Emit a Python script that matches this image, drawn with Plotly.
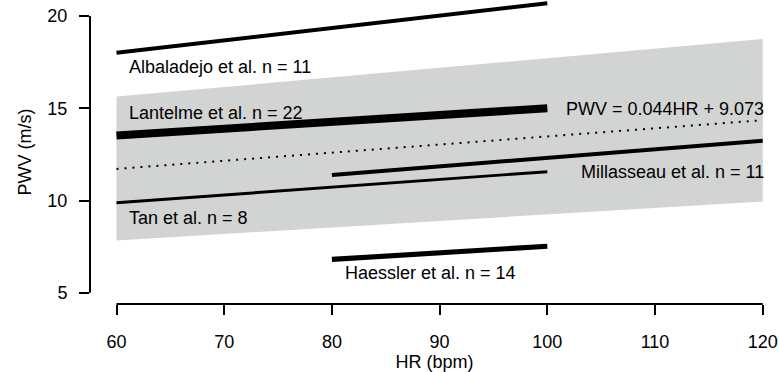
import plotly.graph_objects as go

# ---- data ----
hr_start = [60, 60, 60, 80, 80]
hr_end = [100, 100, 100, 120, 100]
pwv_start = [18.01, 13.52, 9.88, 11.38, 6.81]
pwv_end = [20.69, 15.00, 11.56, 13.24, 7.52]
study = ["Albaladejo et al.", "Lantelme et al.", "Tan et al.", "Millasseau et al.", "Haessler et al."]
n_subjects = [11, 22, 8, 11, 14]

band_hr = [60, 120, 120, 60]
band_pwv = [15.63, 18.75, 9.95, 7.83]

reg_slope = 0.044
reg_intercept = 9.073
reg_hr = [60, 120]

x_ticks = [60, 70, 80, 90, 100, 110, 120]
y_ticks = [5, 10, 15, 20]

# label positions (x, y, anchor) for each study
label_x = [61, 61, 61, 120.3, 81]
label_y = [17.25, 14.74, 9.07, 11.56, 6.05]
label_anchor = ["left", "left", "left", "right", "left"]

FONT = "Liberation Sans, Arial, Helvetica, sans-serif"
FS = 18

fig = go.Figure()

# grey band
fig.add_trace(go.Scatter(
    x=band_hr + [band_hr[0]], y=band_pwv + [band_pwv[0]],
    mode="lines", fill="toself", fillcolor="#d2d3d3",
    line=dict(width=0, color="#d2d3d3"), hoverinfo="skip", showlegend=False))

# regression (dotted)
reg_pwv = [reg_slope * h + reg_intercept for h in reg_hr]
fig.add_trace(go.Scatter(
    x=reg_hr, y=reg_pwv, mode="lines",
    line=dict(color="black", width=2, dash="2px,6px"), showlegend=False))

# study lines, width proportional to n
for i in range(len(study)):
    fig.add_trace(go.Scatter(
        x=[hr_start[i], hr_end[i]], y=[pwv_start[i], pwv_end[i]],
        mode="lines", name=study[i],
        line=dict(color="black", width=n_subjects[i] * 0.364),
        showlegend=False))

annotations = []
for i in range(len(study)):
    annotations.append(dict(
        x=label_x[i], y=label_y[i], xref="x", yref="y",
        text=f"{study[i]} n = {n_subjects[i]}", showarrow=False,
        xanchor=label_anchor[i], yanchor="middle",
        font=dict(family=FONT, size=FS, color="black")))
annotations.append(dict(
    x=120.3, y=14.94, xref="x", yref="y",
    text=f"PWV = {reg_slope}HR + {reg_intercept}", showarrow=False,
    xanchor="right", yanchor="middle",
    font=dict(family=FONT, size=FS, color="black")))

shapes = [
    dict(type="line", xref="x", yref="paper", x0=x_ticks[0], x1=x_ticks[-1], y0=0, y1=0,
         line=dict(color="black", width=2)),
    dict(type="line", xref="paper", yref="y", x0=0, x1=0, y0=y_ticks[0], y1=y_ticks[-1],
         line=dict(color="black", width=2)),
]

fig.update_layout(
    width=779, height=372,
    margin=dict(l=90, r=0, t=0, b=68, autoexpand=False),
    paper_bgcolor="white", plot_bgcolor="white",
    font=dict(family=FONT, size=FS, color="black"),
    annotations=annotations, shapes=shapes,
    xaxis=dict(range=[57.54, 121.51], tickvals=x_ticks, ticks="outside", ticklen=10,
               tickwidth=2, tickcolor="black", showgrid=False, zeroline=False, showline=False,
               automargin=False, ticklabelstandoff=11,
               title=dict(text="HR (bpm)", standoff=3, font=dict(size=FS)),
               tickfont=dict(size=FS)),
    yaxis=dict(range=[4.39, 20.867], tickvals=y_ticks, ticks="outside", ticklen=10,
               tickwidth=2, tickcolor="black", showgrid=False, zeroline=False, showline=False,
               automargin=False, ticklabelstandoff=8,
               title=dict(text="PWV (m/s)", standoff=11, font=dict(size=FS)),
               tickfont=dict(size=FS), tickangle=0),
)

fig.write_html("out.html", config={"displayModeBar": False},
               post_script="document.body.style.margin='0';document.body.style.overflow='hidden';")
